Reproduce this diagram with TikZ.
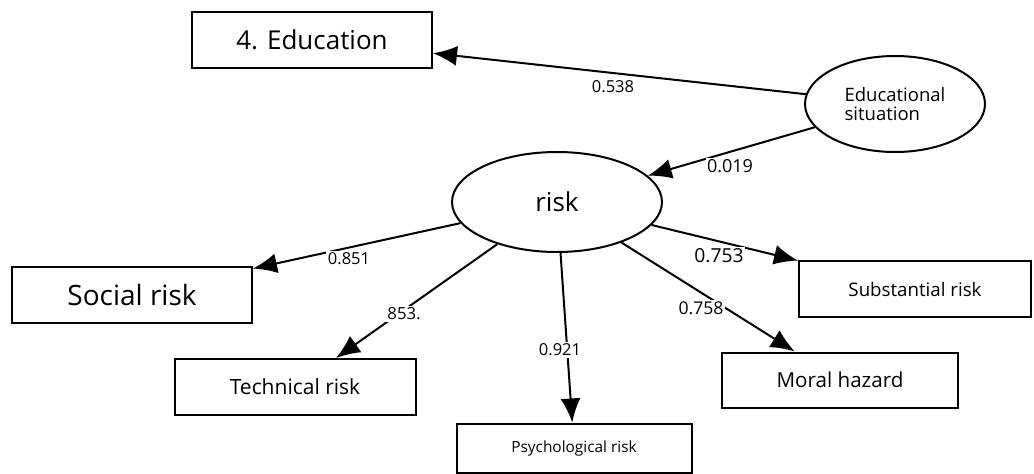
\documentclass[tikz,border=0pt]{standalone}
\usepackage{fontspec}
\setmainfont{Open Sans}
\usetikzlibrary{arrows.meta,shapes.geometric}

\newcommand{\fs}[1]{\fontsize{#1}{#1}\selectfont}

\tikzset{
    obsbox/.style={draw, line width=2pt, inner sep=0pt, minimum height=56pt},
    latent/.style={draw, ellipse, line width=2pt, inner sep=0pt},
    path/.style={line width=2pt, -{Latex[length=24pt,width=20pt]}},
    coef/.style={fill=white, inner sep=1.5pt}
}

\begin{document}
\begin{tikzpicture}[x=1pt, y=-1pt]
    \useasboundingbox (0,0) rectangle (1034,474);

    % latent variables
    \node[latent, minimum width=180pt, minimum height=96pt, align=left] (edusit) at (895,104) {\fs{18.5}Educational\\[5pt]\fs{18.5}situation};
    \node[latent, minimum width=210pt, minimum height=100pt] (risk) at (557,202) {\fs{26}risk};

    % indicators
    \node[obsbox, minimum width=240pt] (edu) at (312,40) {\fs{26}4. Education};
    \node[obsbox, minimum width=240pt] (social) at (132,295) {\fs{28}Social risk};
    \node[obsbox, minimum width=241pt] (tech) at (295,387) {\fs{21}Technical risk};
    \node[obsbox, minimum width=235pt, minimum height=49pt] (psych) at (574,448) {\fs{15.4}Psychological risk};
    \node[obsbox, minimum width=236pt, minimum height=55pt] (moral) at (840,380) {\fs{20.6}Moral hazard};
    \node[obsbox, minimum width=232pt] (subst) at (915,289) {\fs{18.7}Substantial risk};

    % paths
    \draw[path] (edusit) -- (edu);
    \draw[path] (edusit) -- (risk);
    \draw[path] (risk) -- (social);
    \draw[path] (risk) -- (tech);
    \draw[path] (risk) -- (psych);
    \draw[path] (risk) -- (moral);
    \draw[path] (risk) -- (subst);

    % coefficients
    \node[coef] (c1) at (613,87) {\fs{16.5}0.538};
    \node[coef] (c2) at (730,166) {\fs{18}0.019};
    \node[coef] (c3) at (349,259) {\fs{16.5}0.851};
    \node[coef] (c4) at (404,314) {\fs{16.7}853.};
    \node[coef] (c5) at (560,350) {\fs{16.5}0.921};
    \node[coef] (c6) at (701,308) {\fs{17.6}0.758};
    \node[coef] (c7) at (719,256) {\fs{19.3}0.753};
\end{tikzpicture}
\end{document}
